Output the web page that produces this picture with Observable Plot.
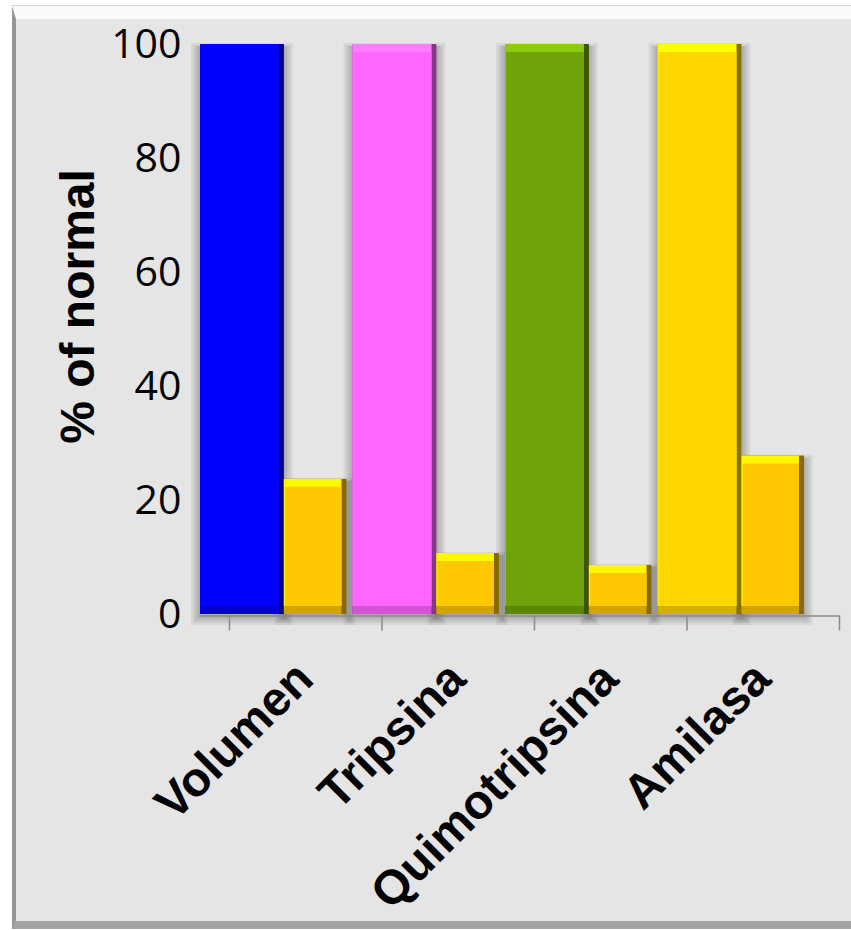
<!DOCTYPE html>
<html>
<head>
<meta charset="utf-8">
<script src="https://cdn.jsdelivr.net/npm/d3@7"></script>
<script src="https://cdn.jsdelivr.net/npm/@observablehq/plot@0.6"></script>
<style>
  html, body { margin: 0; padding: 0; background: #ffffff; overflow: hidden; width: 851px; height: 930px; }
  #panel {
    position: absolute; left: 12px; top: 6px; width: 900px; height: 923px;
    box-sizing: border-box; background: #e5e5e5;
    border-top: 13px solid #f9f9f9;
    border-left: 4px solid #969696;
    border-bottom: 8px solid #a4a4a4;
    box-shadow: 0 -1px 0 #d6d6d6;
  }
  #chart { position: absolute; left: 0; top: 0; }
</style>
</head>
<body>
<div id="panel"></div>
<div id="chart"></div>
<script>
// Pancreatic secretion, as a percentage of the normal response
const categories = ["Volumen", "Tripsina", "Quimotripsina", "Amilasa"];
const normalValues = [100, 100, 100, 100];
const measuredValues = [23.7, 10.7, 8.6, 27.8];
const normalColors = ["#0000ff", "#ff66ff", "#70a30a", "#ffd600"];
const measuredColor = "#ffc800";
const yTicks = [0, 20, 40, 60, 80, 100];
const yLabel = "% of normal";

// One row per bar: the wide coloured "normal" bar followed by the narrower gold bar
const bars = categories.flatMap((name, i) => [
  { name, i, series: "normal", value: normalValues[i], color: normalColors[i], x1: i - 0.19, x2: i + 0.36 },
  { name, i, series: "measured", value: measuredValues[i], color: measuredColor, x1: i + 0.36, x2: i + 0.77 }
]);

// Bevel shades derived from each bar's own colour
const edgeDark = d => d3.color(d.color).darker(1.8).formatHex();
const edgeMid = d => d3.color(d.color).darker(0.55).formatHex();
const edgeLight = d => d3.color(d.color).brighter(0.6).formatHex();

const barBase = { x1: "x1", x2: "x2", y1: () => 0, y2: "value" };

// Soft shadow: stacked translucent halos spreading out from each bar
const shadowSteps = [9, 7, 5, 3, 1];
const shadowMarks = shadowSteps.map(k => Plot.rect(bars, {
  ...barBase, fill: "#000", fillOpacity: 0.055,
  insetLeft: -k, insetRight: -k, insetBottom: -k, insetTop: -Math.max(0, k - 6), dy: 2
}));

const chart = Plot.plot({
  width: 851,
  height: 930,
  marginLeft: 200,
  marginRight: 12,
  marginTop: 44,
  marginBottom: 316,
  style: { background: "transparent", overflow: "visible" },
  x: { domain: [-0.19, 4] },
  y: { domain: [0, 100] },
  marks: [
    ...shadowMarks,
    // category axis line and ticks
    Plot.ruleY([0], { stroke: "#8a8a8a", strokeWidth: 1.5, dy: 1.5 }),
    Plot.axisX({ ticks: [0, 1, 2, 3, 4], tickSize: 15, tickFormat: () => "", stroke: "#8a8a8a", strokeWidth: 1.5, label: null, dy: 1.5 }),
    // body, its right-hand dark edge
    Plot.rect(bars, { ...barBase, fill: edgeDark }),
    // lower bevel
    Plot.rect(bars, { ...barBase, fill: edgeMid, insetRight: 5 }),
    // upper bevel
    Plot.rect(bars, { ...barBase, fill: edgeLight, insetRight: 5, insetBottom: 8 }),
    // face
    Plot.rect(bars, { ...barBase, fill: "color", insetRight: 5, insetBottom: 8, insetTop: 8, insetLeft: 1 }),
    // value axis labels
    Plot.axisY({ ticks: yTicks, tickSize: 0, tickPadding: 19, label: null, fontSize: 41, fontFamily: "Open Sans, sans-serif", fill: "#000" }),
    // rotated category labels
    Plot.text(categories, {
      x: (d, i) => i + 0.565, y: () => 0, text: d => d,
      rotate: -45, textAnchor: "end", lineAnchor: "bottom", dy: 67,
      fontSize: 48, fontWeight: "bold", fontFamily: "Liberation Sans, Arial, sans-serif", fill: "#000"
    }),
    // value axis title
    Plot.text([yLabel], {
      frameAnchor: "left", text: d => d, rotate: -90, textAnchor: "middle", lineAnchor: "bottom",
      dx: -107, dy: -23, fontSize: 48, fontWeight: "bold",
      fontFamily: "Liberation Sans, Arial, sans-serif", fill: "#000"
    })
  ]
});

document.getElementById("chart").appendChild(chart);
</script>
</body>
</html>
